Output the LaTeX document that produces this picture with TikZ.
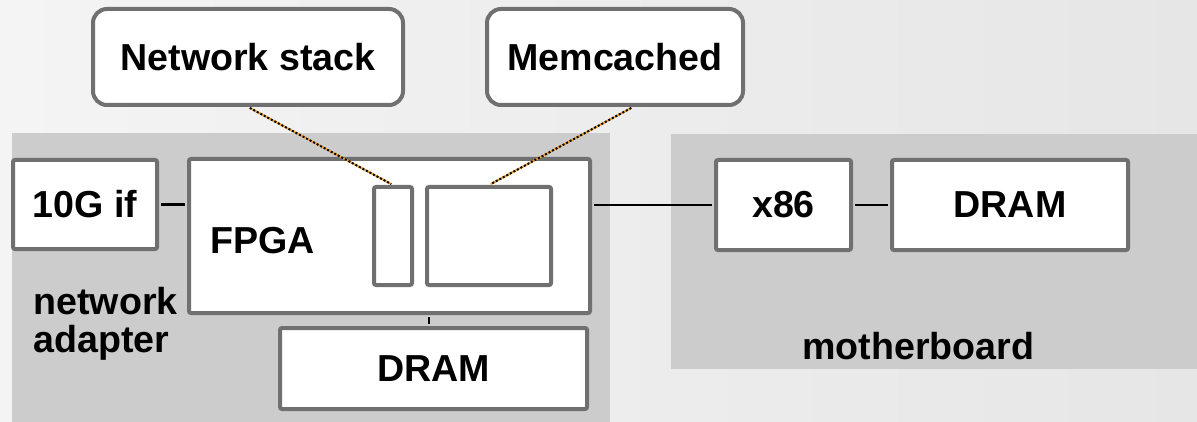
\documentclass[tikz,border=0pt]{standalone}
\usepackage{fontspec}
\setmainfont{Liberation Sans}
\usetikzlibrary{shapes,arrows}
\definecolor{boxgray}{HTML}{707070}
\definecolor{boardgray}{HTML}{CCCCCC}
\definecolor{bgleft}{HTML}{F4F4F4}
\definecolor{bgright}{HTML}{E6E6E6}
\definecolor{tiporange}{HTML}{F0A030}
\tikzstyle{block} = [rectangle, draw=boxgray, line width=2pt, fill=white, inner sep=0pt, rounded corners=1pt, font=\bfseries\fontsize{18.8}{21}\selectfont]
\tikzstyle{callout} = [block, rounded corners=7pt]
\tikzstyle{board} = [fill=boardgray]
\tikzstyle{boardtext} = [inner sep=0pt, anchor=base west, font=\bfseries\fontsize{18.8}{19}\selectfont]
\tikzstyle{line} = [draw, line width=1pt, shorten >=1pt, shorten <=1pt]
\tikzstyle{link} = [draw=tiporange, line width=1pt, shorten >=1pt, shorten <=1pt, postaction={draw=black, dash pattern=on 1pt off 1pt, shorten >=1pt, shorten <=1pt}]

\begin{document}
\begin{tikzpicture}[x=0.5pt, y=-0.5pt]
    % Background and boards
    \useasboundingbox (0,0) rectangle (1197,422);
    \shade [left color=bgleft, right color=bgright] (0,0) rectangle (1197,422);
    \fill [board] (12,133) rectangle (610,422);
    \fill [board] (671,134) rectangle (1197,369);
    % Place nodes
    \node [callout, minimum width=155pt, minimum height=48pt] (netstack) at (248,57) {Network stack};
    \node [callout, minimum width=128pt, minimum height=48pt] (memcached) at (615,57) {Memcached};
    \node [block, minimum width=72pt, minimum height=44.5pt] (teng) at (85,204.5) {10G if};
    \node [block, minimum width=200.5pt, minimum height=77pt] (fpga) at (389.5,236) {};
    \node [boardtext] (fpgalabel) at (210,253) {FPGA};
    \node [block, minimum width=19pt, minimum height=49pt] (stackblk) at (393,236) {};
    \node [block, minimum width=62pt, minimum height=49pt, node distance=48pt, right of=stackblk] (memblk) {};
    \node [block, minimum width=153.5pt, minimum height=40.5pt] (drama) at (433.5,368.5) {DRAM};
    \node [block, minimum width=67.5pt, minimum height=45pt] (x86) at (783.5,205) {x86};
    \node [block, minimum width=118pt, minimum height=45pt, node distance=113.25pt, right of=x86] (dramb) {DRAM};
    \node [boardtext, align=left] (adapterlabel) at (33,352) {network\\adapter};
    \node [boardtext] (moboLabel) at (802,359) {motherboard};
    % Draw edges
    \path [line] (teng.east) -- (teng.east -| fpga.west);
    \path [line] (x86.west -| fpga.east) -- (x86.west);
    \path [line] (x86.east) -- (dramb.west);
    \path [line] ([xshift=-2.25pt]drama.north) -- ([xshift=-2.25pt]drama.north |- fpga.south);
    \path [link] (netstack.south) -- (stackblk.north);
    \path [link] ([xshift=9pt]memcached.south) -- (memblk.north);
\end{tikzpicture}
\end{document}
